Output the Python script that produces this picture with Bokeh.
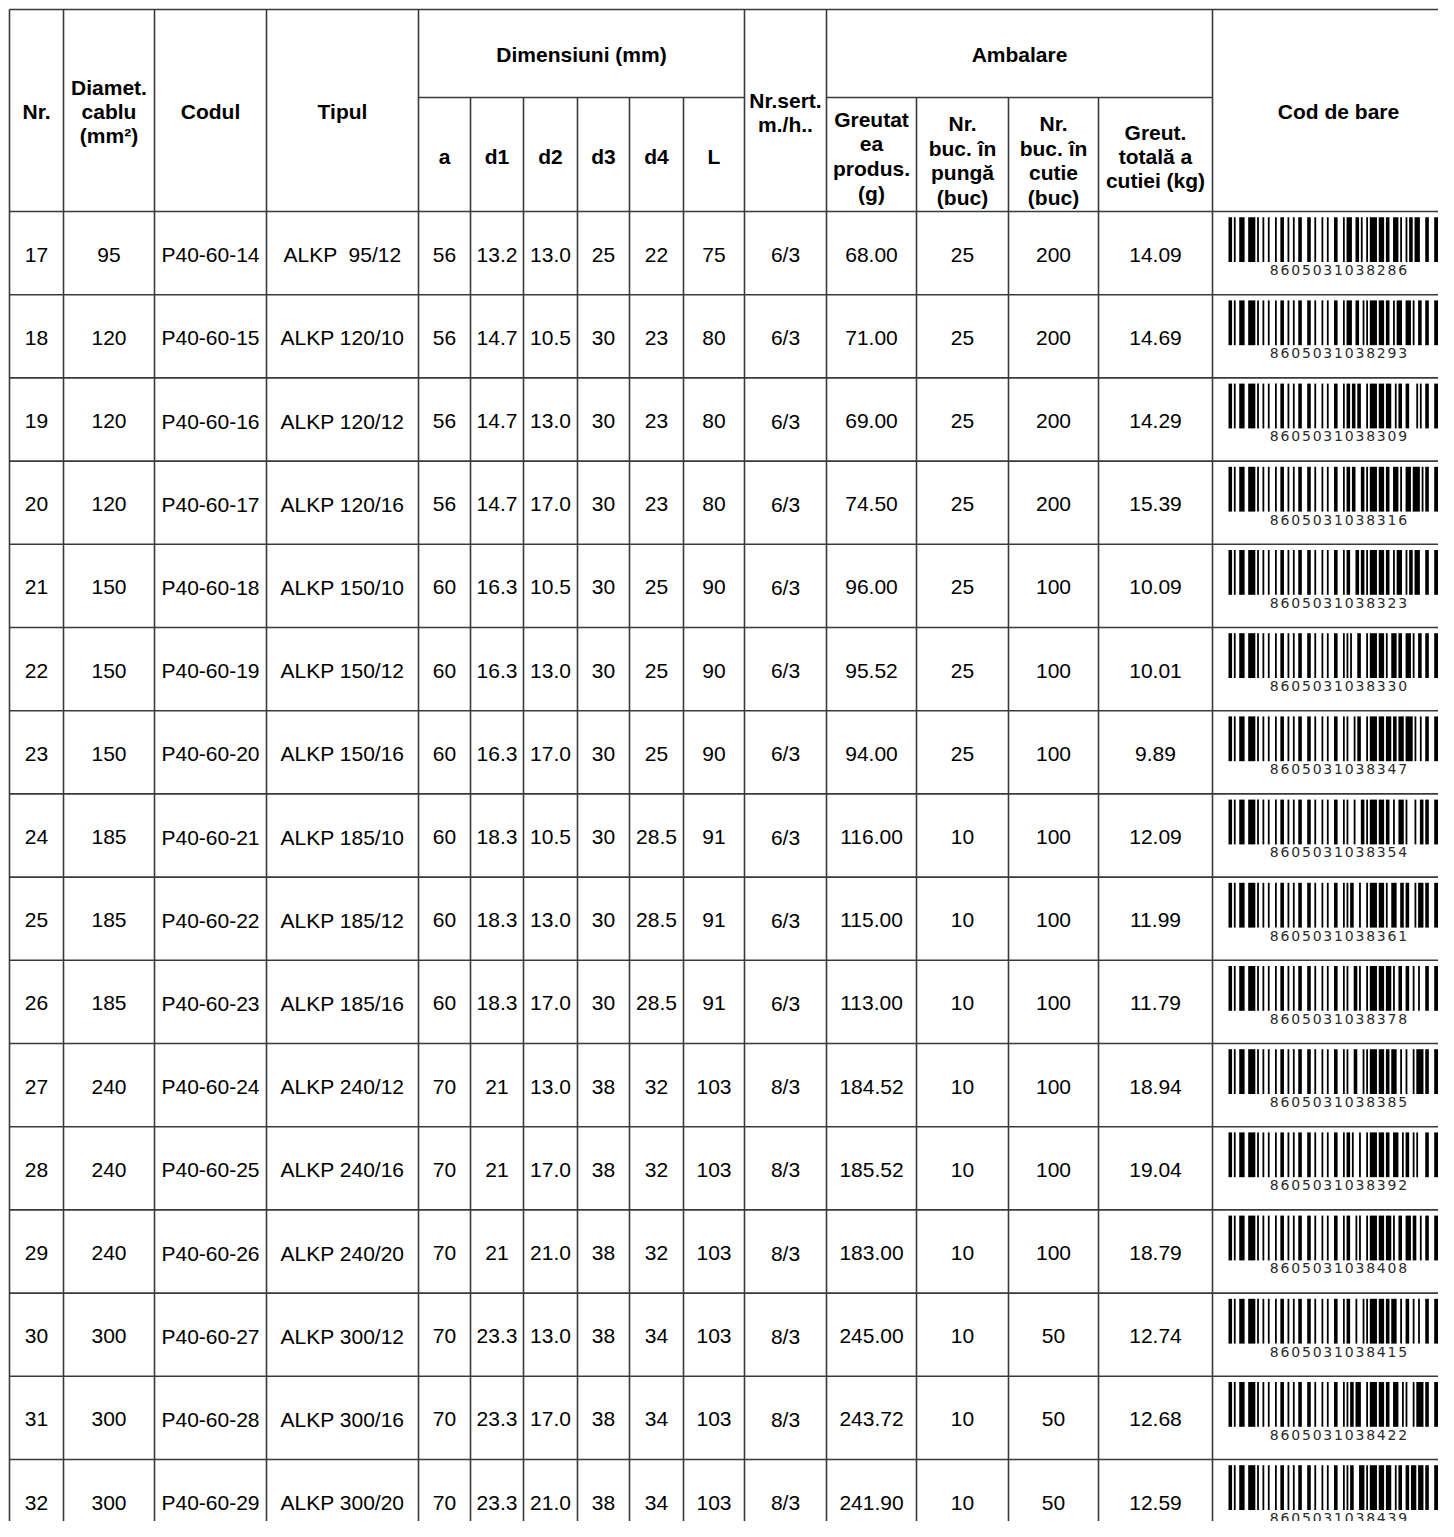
from bokeh.plotting import figure
from bokeh.models import Range1d
from bokeh.core.properties import value
from bokeh.embed import file_html
from bokeh.resources import INLINE

# ---------------- data ----------------
nr = [17, 18, 19, 20, 21, 22, 23, 24, 25, 26, 27, 28, 29, 30, 31, 32]
diam = [95, 120, 120, 120, 150, 150, 150, 185, 185, 185, 240, 240, 240, 300, 300, 300]
codul = ["P40-60-14", "P40-60-15", "P40-60-16", "P40-60-17", "P40-60-18", "P40-60-19",
         "P40-60-20", "P40-60-21", "P40-60-22", "P40-60-23", "P40-60-24", "P40-60-25",
         "P40-60-26", "P40-60-27", "P40-60-28", "P40-60-29"]
tipul = ["ALKP  95/12", "ALKP 120/10", "ALKP 120/12", "ALKP 120/16", "ALKP 150/10",
         "ALKP 150/12", "ALKP 150/16", "ALKP 185/10", "ALKP 185/12", "ALKP 185/16",
         "ALKP 240/12", "ALKP 240/16", "ALKP 240/20", "ALKP 300/12", "ALKP 300/16",
         "ALKP 300/20"]
dim_a = ["56", "56", "56", "56", "60", "60", "60", "60", "60", "60", "70", "70", "70", "70", "70", "70"]
dim_d1 = ["13.2", "14.7", "14.7", "14.7", "16.3", "16.3", "16.3", "18.3", "18.3", "18.3",
          "21", "21", "21", "23.3", "23.3", "23.3"]
dim_d2 = ["13.0", "10.5", "13.0", "17.0", "10.5", "13.0", "17.0", "10.5", "13.0", "17.0",
          "13.0", "17.0", "21.0", "13.0", "17.0", "21.0"]
dim_d3 = ["25", "30", "30", "30", "30", "30", "30", "30", "30", "30", "38", "38", "38", "38", "38", "38"]
dim_d4 = ["22", "23", "23", "23", "25", "25", "25", "28.5", "28.5", "28.5", "32", "32", "32",
          "34", "34", "34"]
dim_L = ["75", "80", "80", "80", "90", "90", "90", "91", "91", "91", "103", "103", "103",
         "103", "103", "103"]
nr_sert = ["6/3"] * 10 + ["8/3"] * 6
greutatea = ["68.00", "71.00", "69.00", "74.50", "96.00", "95.52", "94.00", "116.00", "115.00",
             "113.00", "184.52", "185.52", "183.00", "245.00", "243.72", "241.90"]
buc_punga = ["25", "25", "25", "25", "25", "25", "25", "10", "10", "10", "10", "10", "10",
             "10", "10", "10"]
buc_cutie = ["200", "200", "200", "200", "100", "100", "100", "100", "100", "100", "100",
             "100", "100", "50", "50", "50"]
greut_totala = ["14.09", "14.69", "14.29", "15.39", "10.09", "10.01", "9.89", "12.09", "11.99",
                "11.79", "18.94", "19.04", "18.79", "12.74", "12.68", "12.59"]
cod_bare = ["8605031038286", "8605031038293", "8605031038309", "8605031038316",
            "8605031038323", "8605031038330", "8605031038347", "8605031038354",
            "8605031038361", "8605031038378", "8605031038385", "8605031038392",
            "8605031038408", "8605031038415", "8605031038422", "8605031038439"]

# ---------------- layout ----------------
FONT = value("Liberation Sans")
LINE = "#3a3a3a"
xe = [9, 63, 154, 266, 418, 470, 523, 577, 629, 683, 744, 826, 916, 1008, 1098, 1212, 1475]
top, sub, hdr_bot = 9, 97, 211
row_h = 83.2
nrows = len(nr)
bottom = hdr_bot + row_h * nrows
row_tops = [hdr_bot + i * row_h for i in range(nrows)]
centers = [(xe[i] + xe[i + 1]) / 2 for i in range(len(xe) - 1)]

p = figure(width=1438, height=1521, output_backend="svg", toolbar_location=None,
           x_range=Range1d(0, 1438), y_range=Range1d(1521, 0),
           x_axis_location=None, y_axis_location=None, min_border=0)
p.grid.visible = False
p.outline_line_color = None
p.background_fill_color = "white"
p.border_fill_color = "white"

# lines
x0, y0, x1, y1 = [], [], [], []
for y in [top, hdr_bot] + [hdr_bot + row_h * (i + 1) for i in range(nrows)]:
    x0.append(xe[0]); x1.append(xe[-1]); y0.append(y); y1.append(y)
for a, b in [(4, 10), (11, 15)]:
    x0.append(xe[a]); x1.append(xe[b]); y0.append(sub); y1.append(sub)
full = [0, 1, 2, 3, 4, 10, 11, 15]
for i, x in enumerate(xe[:-1]):
    ys = top if i in full else sub
    x0.append(x); x1.append(x); y0.append(ys); y1.append(bottom + 10)
p.segment(x0=x0, y0=y0, x1=x1, y1=y1, line_color=LINE, line_width=1.6)

# header texts
hx, hy, ht = [], [], []
def hadd(x, ys, lines):
    for y, t in zip(ys, lines):
        hx.append(x); hy.append(y); ht.append(t)

hadd(centers[0], [111], ["Nr."])
hadd(centers[1], [87, 111, 135], ["Diamet.", "cablu", "(mm²)"])
hadd(centers[2], [111], ["Codul"])
hadd(centers[3], [111], ["Tipul"])
hadd((xe[4] + xe[10]) / 2, [54], ["Dimensiuni (mm)"])
for i, lab in zip(range(4, 10), ["a", "d1", "d2", "d3", "d4", "L"]):
    hadd(centers[i], [156], [lab])
hadd(centers[10], [100, 124], ["Nr.sert.", "m./h.."])
hadd((xe[11] + xe[15]) / 2, [54], ["Ambalare"])
hadd(centers[11], [119, 143, 168, 193], ["Greutat", "ea", "produs.", "(g)"])
hadd(centers[12], [123, 148, 172, 197], ["Nr.", "buc. în", "pungă", "(buc)"])
hadd(centers[13], [123, 148, 172, 197], ["Nr.", "buc. în", "cutie", "(buc)"])
hadd(centers[14], [132, 156, 180], ["Greut.", "totală a", "cutiei (kg)"])
hadd(1338, [111], ["Cod de bare"])
p.text(x=hx, y=hy, text=ht, text_font=FONT, text_font_size="21px", text_font_style="bold",
       text_align="center", text_baseline="middle", text_color="black")

# body texts (keep double spaces visible in SVG)
cols = [[str(v) for v in nr], [str(v) for v in diam], codul,
        [t.replace("  ", " \u00a0") for t in tipul], dim_a, dim_d1, dim_d2,
        dim_d3, dim_d4, dim_L, nr_sert, greutatea, buc_punga, buc_cutie, greut_totala]
bx, by, bt = [], [], []
for ci, col in enumerate(cols):
    for ri, v in enumerate(col):
        bx.append(centers[ci]); by.append(row_tops[ri] + row_h / 2 + 1.5); bt.append(v)
p.text(x=bx, y=by, text=bt, text_font=FONT, text_font_size="21px",
       text_align="center", text_baseline="middle", text_color="black")

# ---------------- barcodes (Code 128) ----------------
C128 = ["212222", "222122", "222221", "121223", "121322", "131222", "122213", "122312",
        "132212", "221213", "221312", "231212", "112232", "122132", "122231", "113222",
        "123122", "123221", "223211", "221132", "221231", "213212", "223112", "312131",
        "311222", "321122", "321221", "312212", "322112", "322211", "212123", "212321",
        "232121", "111323", "131123", "131321", "112313", "132113", "132311", "211313",
        "231113", "231311", "112133", "112331", "132131", "113123", "113321", "133121",
        "313121", "211331", "231131", "213113", "213311", "213131", "311123", "311321",
        "331121", "312113", "312311", "332111", "314111", "221411", "431111", "111224",
        "111422", "121124", "121421", "141122", "141221", "112214", "112412", "122114",
        "122411", "142112", "142211", "241211", "221114", "413111", "241112", "134111",
        "111242", "121142", "121241", "114212", "124112", "124211", "411212", "421112",
        "421211", "212141", "214121", "412121", "111143", "111341", "131141", "114113",
        "114311", "411113", "411311", "113141", "114131", "311141", "411131", "211412",
        "211214", "211232", "2331112"]

def encode(code):
    vals = [105]
    even = code[:len(code) - len(code) % 2]
    for i in range(0, len(even), 2):
        vals.append(int(even[i:i + 2]))
    if len(code) % 2:
        vals.append(100)
        vals.append(ord(code[-1]) - 32)
    chk = vals[0]
    for i, v in enumerate(vals[1:], start=1):
        chk += i * v
    vals.append(chk % 103)
    vals.append(106)
    widths = []
    for v in vals:
        widths.extend(int(c) for c in C128[v])
    return widths

bar_l, bar_r, bar_t, bar_b = [], [], [], []
dx, dy, dt = [], [], []
bc_left, bc_right = 1228, 1448
for ri, code in enumerate(cod_bare):
    w = encode(code)
    mod = (bc_right - bc_left) / sum(w)
    x = bc_left
    for k, m in enumerate(w):
        if k % 2 == 0:
            bar_l.append(x); bar_r.append(x + m * mod)
            bar_t.append(row_tops[ri] + 5.7); bar_b.append(row_tops[ri] + 50.5)
        x += m * mod
    pitch = 10.7
    start = 1338 - pitch * (len(code) - 1) / 2
    for k, ch in enumerate(code):
        dx.append(start + k * pitch); dy.append(row_tops[ri] + 58.5); dt.append(ch)

p.quad(left=bar_l, right=bar_r, top=bar_t, bottom=bar_b, fill_color="black", line_color=None)
p.text(x=dx, y=dy, text=dt, text_font=value("DejaVu Sans"), text_font_size="14px",
       text_align="center", text_baseline="middle", text_color="#2a2a2a")

open("out.html", "w").write(file_html(p, INLINE))
